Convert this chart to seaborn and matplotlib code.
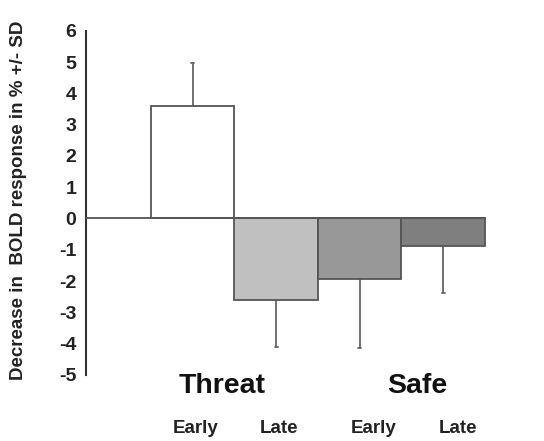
import matplotlib

matplotlib.use("Agg")
import matplotlib.pyplot as plt
import pandas as pd
import seaborn as sns

sns.set_theme(style="white")
plt.rcParams["font.family"] = ["Liberation Sans", "DejaVu Sans"]
plt.rcParams["axes.unicode_minus"] = False

# values
conditions = ["Threat Early", "Threat Late", "Safe Early", "Safe Late"]
means = [3.6, -2.6, -1.95, -0.87]
sds = [1.38, 1.5, 2.2, 1.5]
groups = ["Threat", "Safe"]
phases = ["Early", "Late", "Early", "Late"]
colors = ["#ffffff", "#c0c0c0", "#989898", "#7f7f7f"]

df = pd.DataFrame({"cond": conditions, "mean": means})

fig = plt.figure(figsize=(5.44, 4.41), dpi=100)
ax = fig.add_axes([0.158, 0.150, 0.8026, 0.780])

sns.barplot(data=df, x="cond", y="mean", hue="cond", palette=colors,
            width=1.0, edgecolor="#555555", linewidth=1.3, legend=False,
            ax=ax, zorder=2)

# one-sided SD bars, pointing away from zero
for i, (m, s) in enumerate(zip(means, sds)):
    tip = m + s if m > 0 else m - s
    ax.plot([i, i], [m, tip], color="#666666", lw=1.3, zorder=1)
    ax.plot([i - 0.02, i + 0.02], [tip, tip], color="#666666", lw=1.3, zorder=1)

ax.set_xlim(-1.278, 3.95)
ax.set_ylim(-5, 6)
ax.plot([-1.278, 3.5], [0, 0], color="#555555", lw=1.3, zorder=3, clip_on=False)

for side in ["top", "right", "bottom"]:
    ax.spines[side].set_visible(False)
ax.spines["left"].set_color("#333333")
ax.spines["left"].set_linewidth(1.5)

ax.set_yticks(range(-5, 7))
ax.tick_params(axis="y", direction="out", length=3, width=1, color="#333333",
               labelsize=14, pad=4)
for t in ax.get_yticklabels():
    t.set_fontweight("bold")
    t.set_color("#222222")
ax.set_xticks([])
ax.set_xlabel("")
ax.set_ylabel("Decrease in  BOLD response in % +/- SD", fontsize=13.5,
              fontweight="bold", color="#222222")
ax.yaxis.set_label_coords(-0.135, 0.506)

# group and phase labels below the plot
for x, g in zip([0.35, 2.686], groups):
    ax.text(x, -5.58, g, ha="center", va="baseline", fontsize=20.5,
            fontweight="bold", color="#111111")
for x, p in zip([0.039, 1.033, 2.17, 3.177], phases):
    ax.text(x, -6.86, p, ha="center", va="baseline", fontsize=13.5,
            fontweight="bold", color="#222222")

fig.savefig("out.png", dpi=100, facecolor="white")
